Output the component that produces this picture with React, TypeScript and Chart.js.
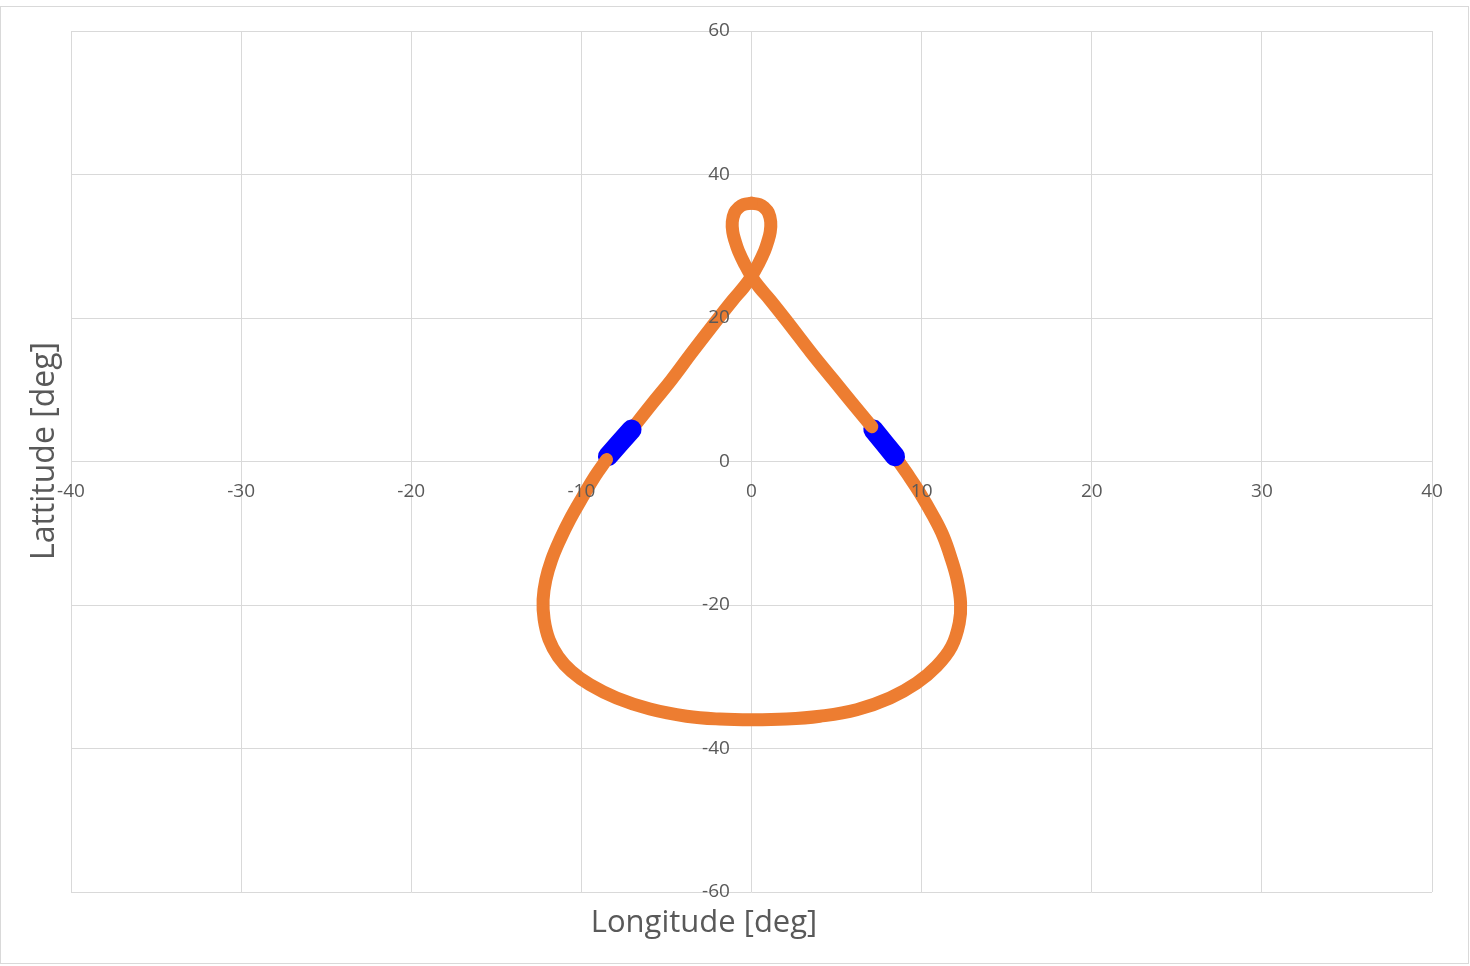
import React, { useEffect, useRef } from "react";
import { Chart, registerables } from "chart.js";

Chart.register(...registerables);

// Upper track, part A: right arm end -> crossing -> left side of small loop -> loop top
const upperA_lon = [7.07, 5.9, 4.8, 3.5, 2.2, 1.1, 0.45, 0, -0.4, -0.76, -0.95, -1.1, -1.13, -0.99, -0.75, -0.48, 0];
const upperA_lat = [4.85, 8.2, 11.4, 15.2, 19.2, 22.5, 24.3, 25.8, 27.5, 29.3, 30.6, 32.0, 33.4, 34.7, 35.4, 35.8, 36.0];

// Upper track, part B: loop top -> right side of small loop -> crossing -> left arm end
const upperB_lon = [0, 0.48, 0.75, 0.99, 1.13, 1.1, 0.95, 0.76, 0.4, 0, -0.45, -1.1, -2.2, -3.5, -4.7, -5.9, -7.05];
const upperB_lat = [36.0, 35.8, 35.4, 34.7, 33.4, 32.0, 30.6, 29.3, 27.5, 25.8, 24.3, 22.5, 19.2, 15.2, 11.4, 7.9, 4.45];

// Lower loop: left blue end -> bottom -> right blue end
const lower_lon = [-8.52, -9.2, -9.9, -10.68, -11.26, -11.75, -12.09, -12.25, -12.19, -11.9, -11.36, -10.58, -9.5, -7.93, -5.97, -3.82, -1.86, 0, 2.06, 4.02, 6.18, 8.14, 9.7, 10.88, 11.76, 12.21, 12.29, 12.09, 11.76, 11.27, 10.68, 9.9, 9.12, 8.44];
const lower_lat = [0.26, -2.06, -4.85, -8.1, -10.9, -13.7, -16.5, -19.25, -22.0, -24.8, -27.2, -29.25, -31.1, -32.96, -34.5, -35.5, -35.9, -36.0, -35.9, -35.5, -34.6, -32.96, -30.9, -28.55, -25.8, -22.5, -19.7, -16.5, -13.7, -10.4, -7.6, -4.4, -1.6, 0.72];

// Highlighted (blue) segments
const blueL_lon = [-8.44, -7.05];
const blueL_lat = [0.72, 4.45];
const blueR_lon = [7.16, 8.44];
const blueR_lat = [4.45, 0.72];

// Axis ticks
const xTicks = [-40, -30, -20, -10, 0, 10, 20, 30, 40];
const yTicks = [-60, -40, -20, 0, 20, 40, 60];

const xTitle = "Longitude [deg]";
const yTitle = "Lattitude [deg]";

const ORANGE = "#ED7D31";
const BLUE = "#0000FF";
const GRID = "#d9d9d9";
const TEXT = "#595959";
const FONT = "'Open Sans', 'Noto Sans', sans-serif";

const pts = (xs: number[], ys: number[]) => xs.map((x, i) => ({ x, y: ys[i] }));

export default function App() {
  const ref = useRef<HTMLCanvasElement | null>(null);

  useEffect(() => {
    if (!ref.current) return;
    const titlePlugin = {
      id: "axisTitles",
      afterDraw(chart: any) {
        const ctx = chart.ctx;
        ctx.save();
        ctx.fillStyle = TEXT;
        ctx.textAlign = "center";
        ctx.textBaseline = "alphabetic";
        ctx.font = `31px ${FONT}`;
        ctx.fillText(xTitle, 704, 932);
        ctx.font = `32px ${FONT}`;
        ctx.translate(54, 451);
        ctx.rotate(-Math.PI / 2);
        ctx.fillText(yTitle, 0, 0);
        ctx.restore();
      },
    };
    const lineDs = (label: string, data: any[], color: string, width: number) => ({
      label,
      data,
      showLine: true,
      fill: false,
      borderColor: color,
      backgroundColor: color,
      borderWidth: width,
      borderCapStyle: "round",
      borderJoinStyle: "round",
      pointRadius: 0,
      pointHoverRadius: 0,
      tension: 0.4,
      cubicInterpolationMode: "default",
    });
    const chart = new Chart(ref.current, {
      type: "line",
      data: {
        datasets: [
          lineDs("upperA", pts(upperA_lon, upperA_lat), ORANGE, 13),
          lineDs("blueR", pts(blueR_lon, blueR_lat), BLUE, 20),
          lineDs("lower", pts(lower_lon, lower_lat), ORANGE, 13),
          lineDs("blueL", pts(blueL_lon, blueL_lat), BLUE, 20),
          lineDs("upperB", pts(upperB_lon, upperB_lat), ORANGE, 13),
        ],
      },
      options: {
        responsive: false,
        animation: false,
        elements: { line: { tension: 0.4, capBezierPoints: false } },
        layout: { padding: { left: 71, top: 31, right: 38, bottom: 74 } },
        plugins: { legend: { display: false }, tooltip: { enabled: false }, title: { display: false } },
        scales: {
          x: {
            type: "linear",
            position: { y: 0 },
            min: xTicks[0],
            max: xTicks[xTicks.length - 1],
            afterBuildTicks: (s: any) => {
              s.ticks = xTicks.map((v) => ({ value: v }));
            },
            grid: { color: GRID, lineWidth: 1, drawTicks: false },
            border: { display: true, color: GRID, width: 1 },
            ticks: {
              autoSkip: false,
              maxRotation: 0,
              padding: 19,
              color: TEXT,
              font: { family: FONT, size: 19 },
              z: 1,
            },
          },
          y: {
            type: "linear",
            // labels sit right-aligned ~22px left of the x=0 line (the line itself comes from the x grid)
            position: { x: -1.27 },
            min: yTicks[0],
            max: yTicks[yTicks.length - 1],
            afterBuildTicks: (s: any) => {
              s.ticks = yTicks.map((v) => ({ value: v }));
            },
            grid: { color: GRID, lineWidth: 1, drawTicks: false },
            border: { display: false },
            ticks: {
              autoSkip: false,
              padding: 0,
              color: TEXT,
              font: { family: FONT, size: 19 },
              z: 1,
            },
          },
        },
      },
      plugins: [titlePlugin],
    } as any);
    return () => chart.destroy();
  }, []);

  return (
    <div style={{ position: "absolute", left: 0, top: 0, width: 1470, height: 966, background: "#fff" }}>
      <canvas ref={ref} width={1470} height={966} style={{ position: "absolute", left: 0, top: 0 }} />
      <div
        style={{
          position: "absolute",
          left: 0,
          top: 6,
          width: 1469,
          height: 958,
          border: "1px solid #d9d9d9",
          boxSizing: "border-box",
          pointerEvents: "none",
        }}
      />
    </div>
  );
}
